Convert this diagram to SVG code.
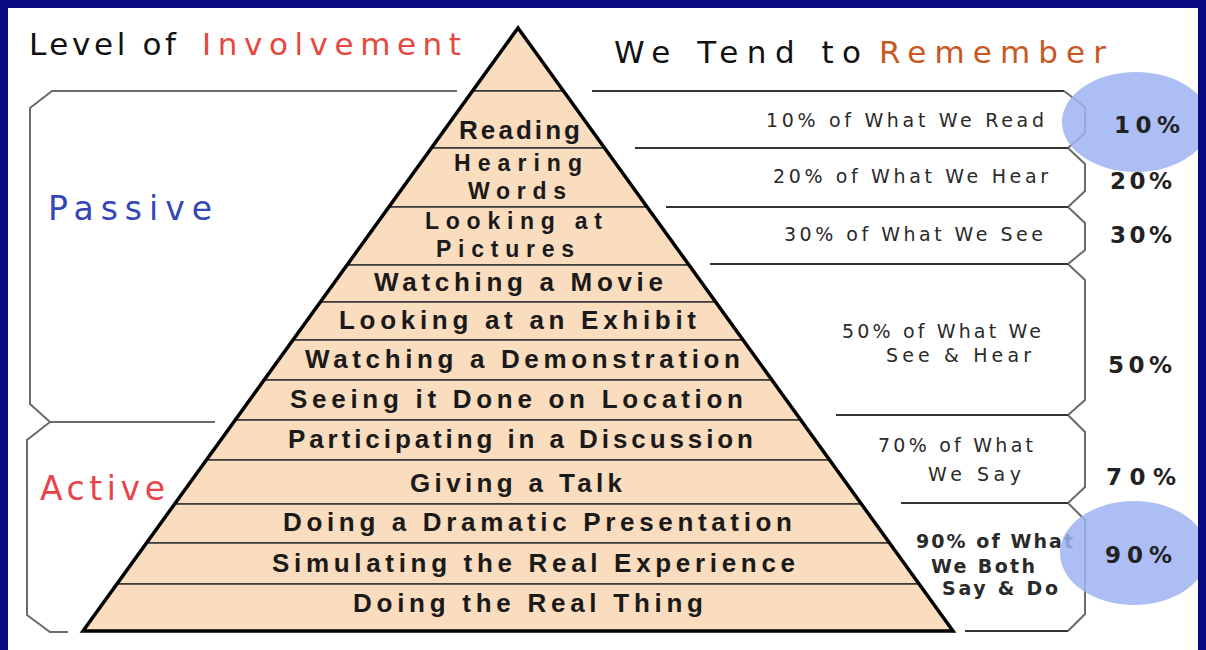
<svg xmlns="http://www.w3.org/2000/svg" width="1206" height="650" viewBox="0 0 1206 650">
<defs>
<style>
.pt{font-family:"Liberation Sans",Arial,sans-serif;font-size:26px;font-weight:bold;fill:#1a1a1a}
.p2{font-size:23px}
.band{fill:#FADCBE;stroke:#333;stroke-width:1.5}
.rl{font-family:"DejaVu Sans",Verdana,sans-serif;font-size:19px;fill:#2a2a2a}
.rb{font-weight:bold}
.pc{font-family:"DejaVu Sans",Verdana,sans-serif;font-size:23px;font-weight:bold;fill:#222}
.hd{font-family:"DejaVu Sans",Verdana,sans-serif;font-size:31px}
.gl{font-family:"DejaVu Sans",Verdana,sans-serif;font-size:33px}
.br{fill:none;stroke:#6a6a6a;stroke-width:2;stroke-linejoin:miter}
.hl{fill:none;stroke:#333;stroke-width:1.8}
.circ{fill:#9DB3F2;opacity:0.85}
</style>
<clipPath id="inner"><rect x="8" y="8" width="1190" height="642"/></clipPath>
</defs>
<rect x="0" y="0" width="1206" height="650" fill="#0A0A80"/>
<rect x="8" y="8" width="1190" height="642" fill="#ffffff"/>

<g id="headers">
<text class="hd" x="29" y="55" textLength="147" fill="#111">Level of</text>
<text class="hd" x="202" y="55" textLength="259" fill="#E4483F">Involvement</text>
<text class="hd" x="614" y="63" textLength="247" fill="#111">We Tend to</text>
<text class="hd" x="879" y="63" textLength="227" fill="#C9581F">Remember</text>
</g>

<g id="group-labels">
<text class="gl" x="48" y="220" textLength="164" fill="#3346B8">Passive</text>
<text class="gl" x="40" y="500" textLength="125" fill="#E8434A">Active</text>
</g>

<g id="connectors">
<path class="br" d="M457,91 L52,91 L30,108 L30,404 L50,422 L27,440 L27,615 L50,632 L68,632"/>
<path class="br" d="M50,422 L215,422"/>
<path class="hl" d="M592,91 L1064,91"/>
<path class="br" d="M1064,91 L1085,107 L1085,133 L1068,148 L1085,164 L1085,191 L1068,207 L1085,223 L1085,250 L1068,264 L1085,280 L1085,400 L1068,415 L1085,432 L1085,487 L1068,503 L1085,520 L1085,614 L1068,631"/>
<path class="hl" d="M635,148 H1068 M666,207 H1068 M710,264 H1068 M836,415 H1068 M901,503 H1068 M965,631 H1068"/>
</g>

<g id="pyramid">
<g id="apex"><polygon class="band" points="518,28 563.45,91 472.55,91"/></g>
<g id="reading"><polygon class="band" points="472.55,91 563.45,91 604.57,148 431.43,148"/>
<text class="pt" x="459" y="139" textLength="121">Reading</text></g>
<g id="hearing"><polygon class="band" points="431.43,148 604.57,148 647.13,207 388.87,207"/>
<text class="pt p2" x="454" y="171" textLength="128">Hearing</text>
<text class="pt p2" x="468" y="199" textLength="98">Words</text></g>
<g id="pictures"><polygon class="band" points="388.87,207 647.13,207 688.97,265 347.03,265"/>
<text class="pt p2" x="425" y="229" textLength="177">Looking at</text>
<text class="pt p2" x="436" y="257" textLength="138">Pictures</text></g>
<g id="movie"><polygon class="band" points="347.03,265 688.97,265 715.66,302 320.34,302"/>
<text class="pt" x="374" y="291" textLength="289">Watching a Movie</text></g>
<g id="exhibit"><polygon class="band" points="320.34,302 715.66,302 743.08,340 292.92,340"/>
<text class="pt" x="339" y="329" textLength="357">Looking at an Exhibit</text></g>
<g id="demonstration"><polygon class="band" points="292.92,340 743.08,340 771.93,380 264.07,380"/>
<text class="pt" x="305" y="368" textLength="435">Watching a Demonstration</text></g>
<g id="location"><polygon class="band" points="264.07,380 771.93,380 800.79,420 235.21,420"/>
<text class="pt" x="290" y="408" textLength="453">Seeing it Done on Location</text></g>
<g id="discussion"><polygon class="band" points="235.21,420 800.79,420 829.64,460 206.36,460"/>
<text class="pt" x="288" y="448" textLength="465">Participating in a Discussion</text></g>
<g id="talk"><polygon class="band" points="206.36,460 829.64,460 861.39,504 174.61,504"/>
<text class="pt" x="410" y="492" textLength="212">Giving a Talk</text></g>
<g id="dramatic"><polygon class="band" points="174.61,504 861.39,504 889.52,543 146.48,543"/>
<text class="pt" x="283" y="531" textLength="509">Doing a Dramatic Presentation</text></g>
<g id="simulating"><polygon class="band" points="146.48,543 889.52,543 919.1,584 116.9,584"/>
<text class="pt" x="272" y="572" textLength="523">Simulating the Real Experience</text></g>
<g id="realthing"><polygon class="band" points="116.9,584 919.1,584 953,631 83,631"/>
<text class="pt" x="353" y="612" textLength="350">Doing the Real Thing</text></g>
<polygon points="518,28 953,631 83,631" fill="none" stroke="#000" stroke-width="3.5" stroke-linejoin="miter"/>
</g>

<g id="remember-labels">
<g id="r10"><text class="rl" x="766" y="127" textLength="278">10% of What We Read</text></g>
<g id="r20"><text class="rl" x="773" y="183" textLength="275">20% of What We Hear</text></g>
<g id="r30"><text class="rl" x="784" y="241" textLength="259">30% of What We See</text></g>
<g id="r50"><text class="rl" x="842" y="338" textLength="199">50% of What We</text>
<text class="rl" x="886" y="362" textLength="145">See &amp; Hear</text></g>
<g id="r70"><text class="rl" x="878" y="452" textLength="155">70% of What</text>
<text class="rl" x="928" y="481" textLength="93">We Say</text></g>
<g id="r90"><text class="rl rb" x="916" y="548" textLength="157">90% of What</text>
<text class="rl rb" x="931" y="573" textLength="104">We Both</text>
<text class="rl rb" x="942" y="595" textLength="116">Say &amp; Do</text></g>
</g>

<g id="percents">
<text class="pc" x="1110" y="189" textLength="62">20%</text>
<text class="pc" x="1110" y="243" textLength="62">30%</text>
<text class="pc" x="1108" y="373" textLength="64">50%</text>
<text class="pc" x="1106" y="485" textLength="70">70%</text>
<g clip-path="url(#inner)">
<ellipse class="circ" cx="1136" cy="122" rx="74" ry="50"/>
<ellipse class="circ" cx="1134" cy="553" rx="74" ry="52"/>
</g>
<text class="pc" x="1114" y="133" textLength="66" fill="#1F2F6E">10%</text>
<text class="pc" x="1105" y="563" textLength="67" fill="#1F2F6E">90%</text>
</g>
</svg>
